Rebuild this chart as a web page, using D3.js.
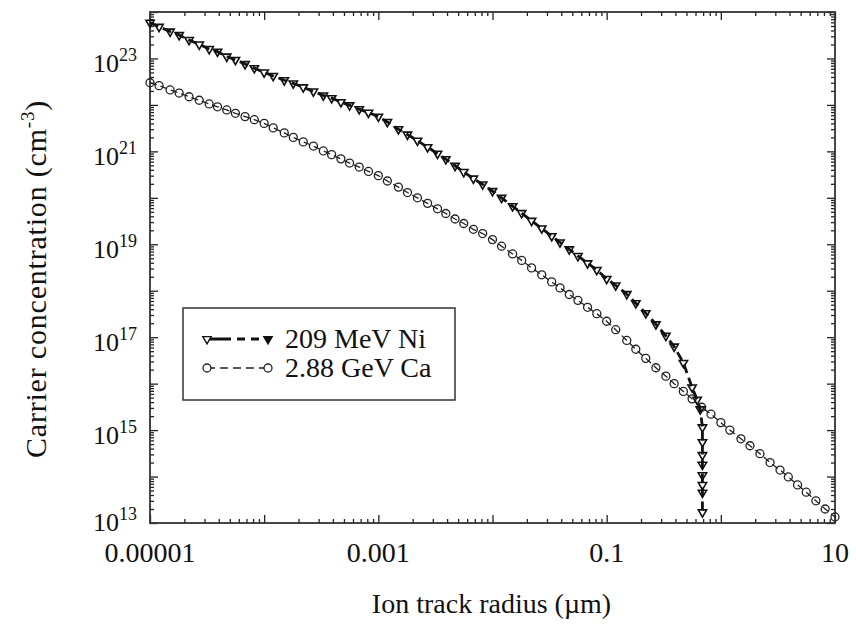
<!DOCTYPE html>
<html>
<head>
<meta charset="utf-8">
<script src="https://cdn.jsdelivr.net/npm/d3@7"></script>
<style>
body { margin: 0; background: #fff; }
text { font-family: "Liberation Serif", "Times New Roman", serif; fill: #111; }
</style>
</head>
<body>
<div id="chart"></div>
<script>
// ion track radius (um) and carrier concentration (cm^-3)
var niRadius = [
    1.0e-5, 1.2e-5, 1.5e-5, 1.8e-5, 2.2e-5, 2.7e-5, 3.3e-5, 3.9e-5, 4.7e-5, 5.6e-5, 6.8e-5, 8.2e-5,
    1.0e-4, 1.2e-4, 1.5e-4, 1.8e-4, 2.2e-4, 2.7e-4, 3.3e-4, 3.9e-4, 4.7e-4, 5.6e-4, 6.8e-4, 8.2e-4,
    1.0e-3, 1.2e-3, 1.5e-3, 1.8e-3, 2.2e-3, 2.7e-3, 3.3e-3, 3.9e-3, 4.7e-3, 5.6e-3, 6.8e-3, 8.2e-3,
    0.010, 0.012, 0.015, 0.018, 0.022, 0.027, 0.033, 0.039, 0.047, 0.056, 0.068, 0.082,
    0.10, 0.12, 0.15, 0.18, 0.22, 0.27, 0.33, 0.39, 0.47, 0.56, 0.62, 0.66,
    0.69, 0.69, 0.69, 0.69, 0.69, 0.69, 0.69, 0.69
];
var niConc = [
    5.9e23, 4.8e23, 3.8e23, 3.2e23, 2.5e23, 2.0e23, 1.6e23, 1.4e23, 1.1e23, 9.3e22, 7.6e22, 6.2e22,
    5.0e22, 4.2e22, 3.4e22, 2.9e22, 2.4e22, 1.95e22, 1.6e22, 1.4e22, 1.15e22, 9.8e21, 8.1e21, 6.8e21,
    5.6e21, 4.3e21, 3.0e21, 2.3e21, 1.7e21, 1.23e21, 8.9e20, 6.8e20, 4.9e20, 3.6e20, 2.6e20, 1.95e20,
    1.4e20, 1.0e20, 6.6e19, 4.7e19, 3.2e19, 2.2e19, 1.5e19, 1.1e19, 7.8e18, 5.6e18, 3.9e18, 2.8e18,
    1.8e18, 1.3e18, 8.5e17, 5.4e17, 3.3e17, 1.9e17, 1.07e17, 6.3e16, 2.8e16, 8.3e15, 4.5e15, 2.8e15,
    1.15e15, 5.5e14, 2.9e14, 1.8e14, 1.07e14, 6.6e13, 4.5e13, 1.7e13
];
var caRadius = [
    1.0e-5, 1.2e-5, 1.5e-5, 1.8e-5, 2.2e-5, 2.7e-5, 3.3e-5, 3.9e-5, 4.7e-5, 5.6e-5, 6.8e-5, 8.2e-5,
    1.0e-4, 1.2e-4, 1.5e-4, 1.8e-4, 2.2e-4, 2.7e-4, 3.3e-4, 3.9e-4, 4.7e-4, 5.6e-4, 6.8e-4, 8.2e-4,
    1.0e-3, 1.2e-3, 1.5e-3, 1.8e-3, 2.2e-3, 2.7e-3, 3.3e-3, 3.9e-3, 4.7e-3, 5.6e-3, 6.8e-3, 8.2e-3,
    0.010, 0.012, 0.015, 0.018, 0.022, 0.027, 0.033, 0.039, 0.047, 0.056, 0.068, 0.082,
    0.10, 0.12, 0.15, 0.18, 0.22, 0.27, 0.33, 0.39, 0.47, 0.56, 0.68, 0.82,
    1.0, 1.2, 1.5, 1.8, 2.2, 2.7, 3.3, 3.9, 4.7, 5.6, 6.8, 8.2, 10
];
var caConc = [
    3.0e22, 2.6e22, 2.1e22, 1.8e22, 1.5e22, 1.26e22, 1.05e22, 9.1e21, 7.8e21, 6.6e21, 5.6e21, 4.8e21,
    4.0e21, 3.2e21, 2.5e21, 2.0e21, 1.6e21, 1.3e21, 1.02e21, 8.5e20, 6.9e20, 5.6e20, 4.6e20, 3.7e20,
    3.0e20, 2.3e20, 1.7e20, 1.3e20, 1.0e20, 7.6e19, 5.8e19, 4.6e19, 3.5e19, 2.8e19, 2.1e19, 1.7e19,
    1.26e19, 9.1e18, 6.2e18, 4.5e18, 3.1e18, 2.2e18, 1.55e18, 1.15e18, 8.3e17, 6.2e17, 4.4e17, 3.2e17,
    2.2e17, 1.45e17, 8.5e16, 5.5e16, 3.5e16, 2.2e16, 1.45e16, 1.0e16, 6.8e15, 4.7e15, 3.1e15, 2.2e15,
    1.45e15, 1.0e15, 6.5e14, 4.6e14, 3.1e14, 2.0e14, 1.38e14, 9.8e13, 6.6e13, 4.6e13, 3.0e13, 2.0e13, 1.35e13
];
var seriesNames = ["209 MeV Ni", "2.88 GeV Ca"];
var xLabelTicks = [1e-5, 1e-3, 0.1, 10];
var xLabelText = ["0.00001", "0.001", "0.1", "10"];
var yLabelTicks = [1e13, 1e15, 1e17, 1e19, 1e21, 1e23];
var yLabelExp = ["13", "15", "17", "19", "21", "23"];

function CarrierChart(){
    var self = this;
    self.init();
};

CarrierChart.prototype.init = function(){
    var self = this;
    self.margin = {top: 12, right: 21, bottom: 103, left: 150};
    self.svgWidth = 856;
    self.svgHeight = 626;

    self.svg = d3.select("#chart").append("svg")
        .attr("width", self.svgWidth)
        .attr("height", self.svgHeight);

    self.x = d3.scaleLog()
        .domain([1e-5, 10])
        .range([self.margin.left, self.svgWidth - self.margin.right]);
    self.y = d3.scaleLog()
        .domain([1e13, 1e24])
        .range([self.svgHeight - self.margin.bottom, self.margin.top]);
};

// draws inward ticks on all four sides, majors longer than minors
CarrierChart.prototype.drawAxes = function(){
    var self = this;
    var isMajor = (d)=>Math.abs(Math.log10(d) - Math.round(Math.log10(d))) < 1e-6;
    var xAll = self.x.ticks(100), yAll = self.y.ticks(100);
    var x0 = self.x.range()[0], x1 = self.x.range()[1];
    var y0 = self.y.range()[0], y1 = self.y.range()[1];

    var sides = [
        {axis: d3.axisBottom(self.x), vals: xAll, t: `translate(0,${y0})`},
        {axis: d3.axisTop(self.x), vals: xAll, t: `translate(0,${y1})`},
        {axis: d3.axisLeft(self.y), vals: yAll, t: `translate(${x0},0)`},
        {axis: d3.axisRight(self.y), vals: yAll, t: `translate(${x1},0)`}
    ];
    sides.forEach((s)=>{
        [[s.vals.filter(isMajor), -8], [s.vals.filter((d)=>!isMajor(d)), -4]].forEach((p)=>{
            var g = self.svg.append("g")
                .attr("transform", s.t)
                .call(s.axis.tickValues(p[0]).tickSizeInner(p[1]).tickSizeOuter(0).tickFormat(""));
            g.select(".domain").remove();
            g.selectAll("line").attr("stroke", "#222").attr("stroke-width", 1.3);
        });
    });

    self.svg.append("rect")
        .attr("x", x0).attr("y", y1)
        .attr("width", x1 - x0).attr("height", y0 - y1)
        .attr("fill", "none")
        .attr("stroke", "#333")
        .attr("stroke-width", 1.8);

    self.svg.selectAll(".xlab").data(xLabelTicks).enter().append("text")
        .attr("class", "xlab")
        .attr("x", (d)=>self.x(d))
        .attr("y", y0 + 39)
        .attr("text-anchor", "middle")
        .style("font-size", "28px")
        .text((d, i)=>xLabelText[i]);

    // the lowest label sits a bit higher so it clears 0.00001
    self.svg.selectAll(".ylab").data(yLabelTicks).enter().append("text")
        .attr("class", "ylab")
        .attr("x", x0 - 13)
        .attr("y", (d, i)=>self.y(d) + (i == 0 ? 8 : 14))
        .attr("text-anchor", "end")
        .style("font-size", "26px")
        .each(function(d, i){
            var t = d3.select(this);
            t.append("tspan").text("10");
            t.append("tspan").attr("dy", -11).style("font-size", "18px").text(yLabelExp[i]);
        });

    self.svg.append("text")
        .attr("x", (x0 + x1)/2 - 1)
        .attr("y", 613)
        .attr("text-anchor", "middle")
        .style("font-size", "28px")
        .text("Ion track radius (\u00b5m)");

    var yt = self.svg.append("text")
        .attr("transform", "translate(46,279) rotate(-90)")
        .attr("text-anchor", "middle")
        .style("font-size", "30px")
        .style("letter-spacing", "0.8px");
    yt.append("tspan").text("Carrier concentration (cm");
    yt.append("tspan").attr("dy", -12).style("font-size", "19px").text("-3");
    yt.append("tspan").attr("dy", 12).text(")");
};

CarrierChart.prototype.update = function(){
    var self = this;
    var ni = niRadius.map((r, i)=>({r: r, c: niConc[i]}));
    var ca = caRadius.map((r, i)=>({r: r, c: caConc[i]}));
    var line = d3.line().x((d)=>self.x(d.r)).y((d)=>self.y(d.c));
    var tri = d3.symbol().type(d3.symbolTriangle).size(30);

    self.svg.append("path").datum(ca)
        .attr("d", line)
        .attr("fill", "none").attr("stroke", "#222")
        .attr("stroke-width", 1.3).attr("stroke-dasharray", "7,4");
    self.svg.append("g").selectAll("circle").data(ca).enter().append("circle")
        .attr("cx", (d)=>self.x(d.r))
        .attr("cy", (d)=>self.y(d.c))
        .attr("r", 4)
        .attr("fill", "none").attr("stroke", "#222").attr("stroke-width", 1.3);

    self.svg.append("path").datum(ni)
        .attr("d", line)
        .attr("fill", "none").attr("stroke", "#111")
        .attr("stroke-width", 2.8).attr("stroke-dasharray", "9,5");
    self.svg.append("g").selectAll("path").data(ni).enter().append("path")
        .attr("d", tri)
        .attr("transform", (d)=>`translate(${self.x(d.r)},${self.y(d.c)}) rotate(180)`)
        .attr("fill", "none").attr("stroke", "#111").attr("stroke-width", 1.6);

    // legend
    var lg = self.svg.append("g");
    lg.append("rect")
        .attr("x", 183).attr("y", 308).attr("width", 272).attr("height", 92)
        .attr("fill", "#fff").attr("stroke", "#333").attr("stroke-width", 1.5);
    var rows = [339, 368];
    lg.append("line").attr("x1", 207).attr("x2", 268).attr("y1", rows[0]).attr("y2", rows[0])
        .attr("stroke", "#111").attr("stroke-width", 2.8).attr("stroke-dasharray", "24,6,8,6,8,10");
    lg.append("line").attr("x1", 207).attr("x2", 268).attr("y1", rows[1]).attr("y2", rows[1])
        .attr("stroke", "#222").attr("stroke-width", 1.3).attr("stroke-dasharray", "8,5");
    [207, 268].forEach((px)=>{
        lg.append("path").attr("d", tri)
            .attr("transform", `translate(${px},${rows[0]}) rotate(180)`)
            .attr("fill", px == 268 ? "#111" : "#fff").attr("stroke", "#111").attr("stroke-width", 1.4);
        lg.append("circle").attr("cx", px).attr("cy", rows[1]).attr("r", 4)
            .attr("fill", "#fff").attr("stroke", "#222").attr("stroke-width", 1.3);
    });
    lg.selectAll("text").data(seriesNames).enter().append("text")
        .attr("x", 285)
        .attr("y", (d, i)=>rows[i] + 9)
        .style("font-size", "28px")
        .text((d)=>d);
};

var chart = new CarrierChart();
chart.drawAxes();
chart.update();
</script>
</body>
</html>
